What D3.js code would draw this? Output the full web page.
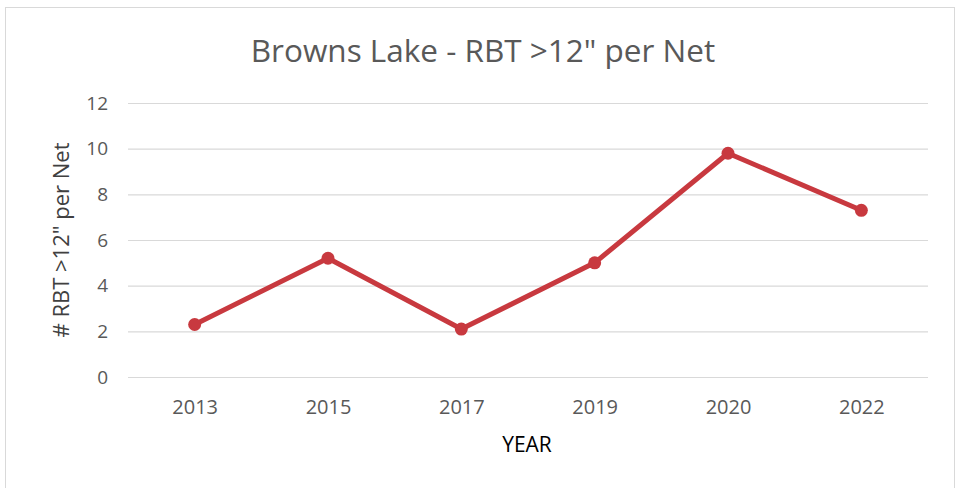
<!DOCTYPE html>
<html><head><meta charset="utf-8">
<script src="https://cdn.jsdelivr.net/npm/d3@7"></script>
<style>body{margin:0;background:#fff;}svg{display:block;font-family:"Open Sans",sans-serif;}</style>
</head><body><svg id="c" width="959" height="488"></svg>
<script>
const categories = ["2013","2015","2017","2019","2020","2022"];
const values = [2.3, 5.2, 2.1, 5.0, 9.8, 7.3];
const yTicks = [0,2,4,6,8,10,12];
const title = "Browns Lake - RBT >12\" per Net";
const xTitle = "YEAR";
const yTitle = "# RBT >12\" per Net";

const svg = d3.select("#c");
svg.append("rect").attr("x",5.5).attr("y",7.5).attr("width",949).attr("height",490)
  .attr("fill","#fff").attr("stroke","#d9d9d9");

const m = {l:128, r:928, t:103, b:377};
const x = d3.scalePoint().domain(categories).range([m.l, m.r]).padding(0.5);
const y = d3.scaleLinear().domain([0,12]).range([m.b, m.t]);

const ya = svg.append("g").attr("transform",`translate(${m.l},0)`)
  .call(d3.axisLeft(y).tickValues(yTicks).tickSize(-(m.r-m.l)).tickPadding(20));
ya.select(".domain").remove();
ya.selectAll(".tick line").attr("stroke","#d9d9d9").attr("stroke-width",1.2);
ya.selectAll(".tick text").attr("fill","#595959").style("font-size","19px").style("font-family","Open Sans");

const xa = svg.append("g").attr("transform",`translate(0,${m.b})`)
  .call(d3.axisBottom(x).tickSize(0).tickPadding(23));
xa.select(".domain").remove();
xa.selectAll(".tick text").attr("fill","#595959").style("font-size","20px").style("font-family","Open Sans");

svg.append("text").attr("x",483).attr("y",62).attr("text-anchor","middle")
  .attr("fill","#595959").style("font-size","31.5px").text(title);
svg.append("text").attr("x",527).attr("y",452).attr("text-anchor","middle")
  .attr("fill","#000").style("font-size","21px").text(xTitle);
svg.append("text").attr("transform","translate(69,240) rotate(-90)").attr("text-anchor","middle")
  .attr("fill","#404040").style("font-size","22px").text(yTitle);

const color = "#c8393f";
svg.append("path").datum(values)
  .attr("d", d3.line().x((d,i)=>x(categories[i])).y(d=>y(d)))
  .attr("fill","none").attr("stroke",color).attr("stroke-width",5).attr("stroke-linejoin","round");
svg.selectAll("circle.pt").data(values).enter().append("circle").attr("class","pt")
  .attr("cx",(d,i)=>x(categories[i])).attr("cy",d=>y(d)).attr("r",6.5).attr("fill",color);
</script></body></html>
